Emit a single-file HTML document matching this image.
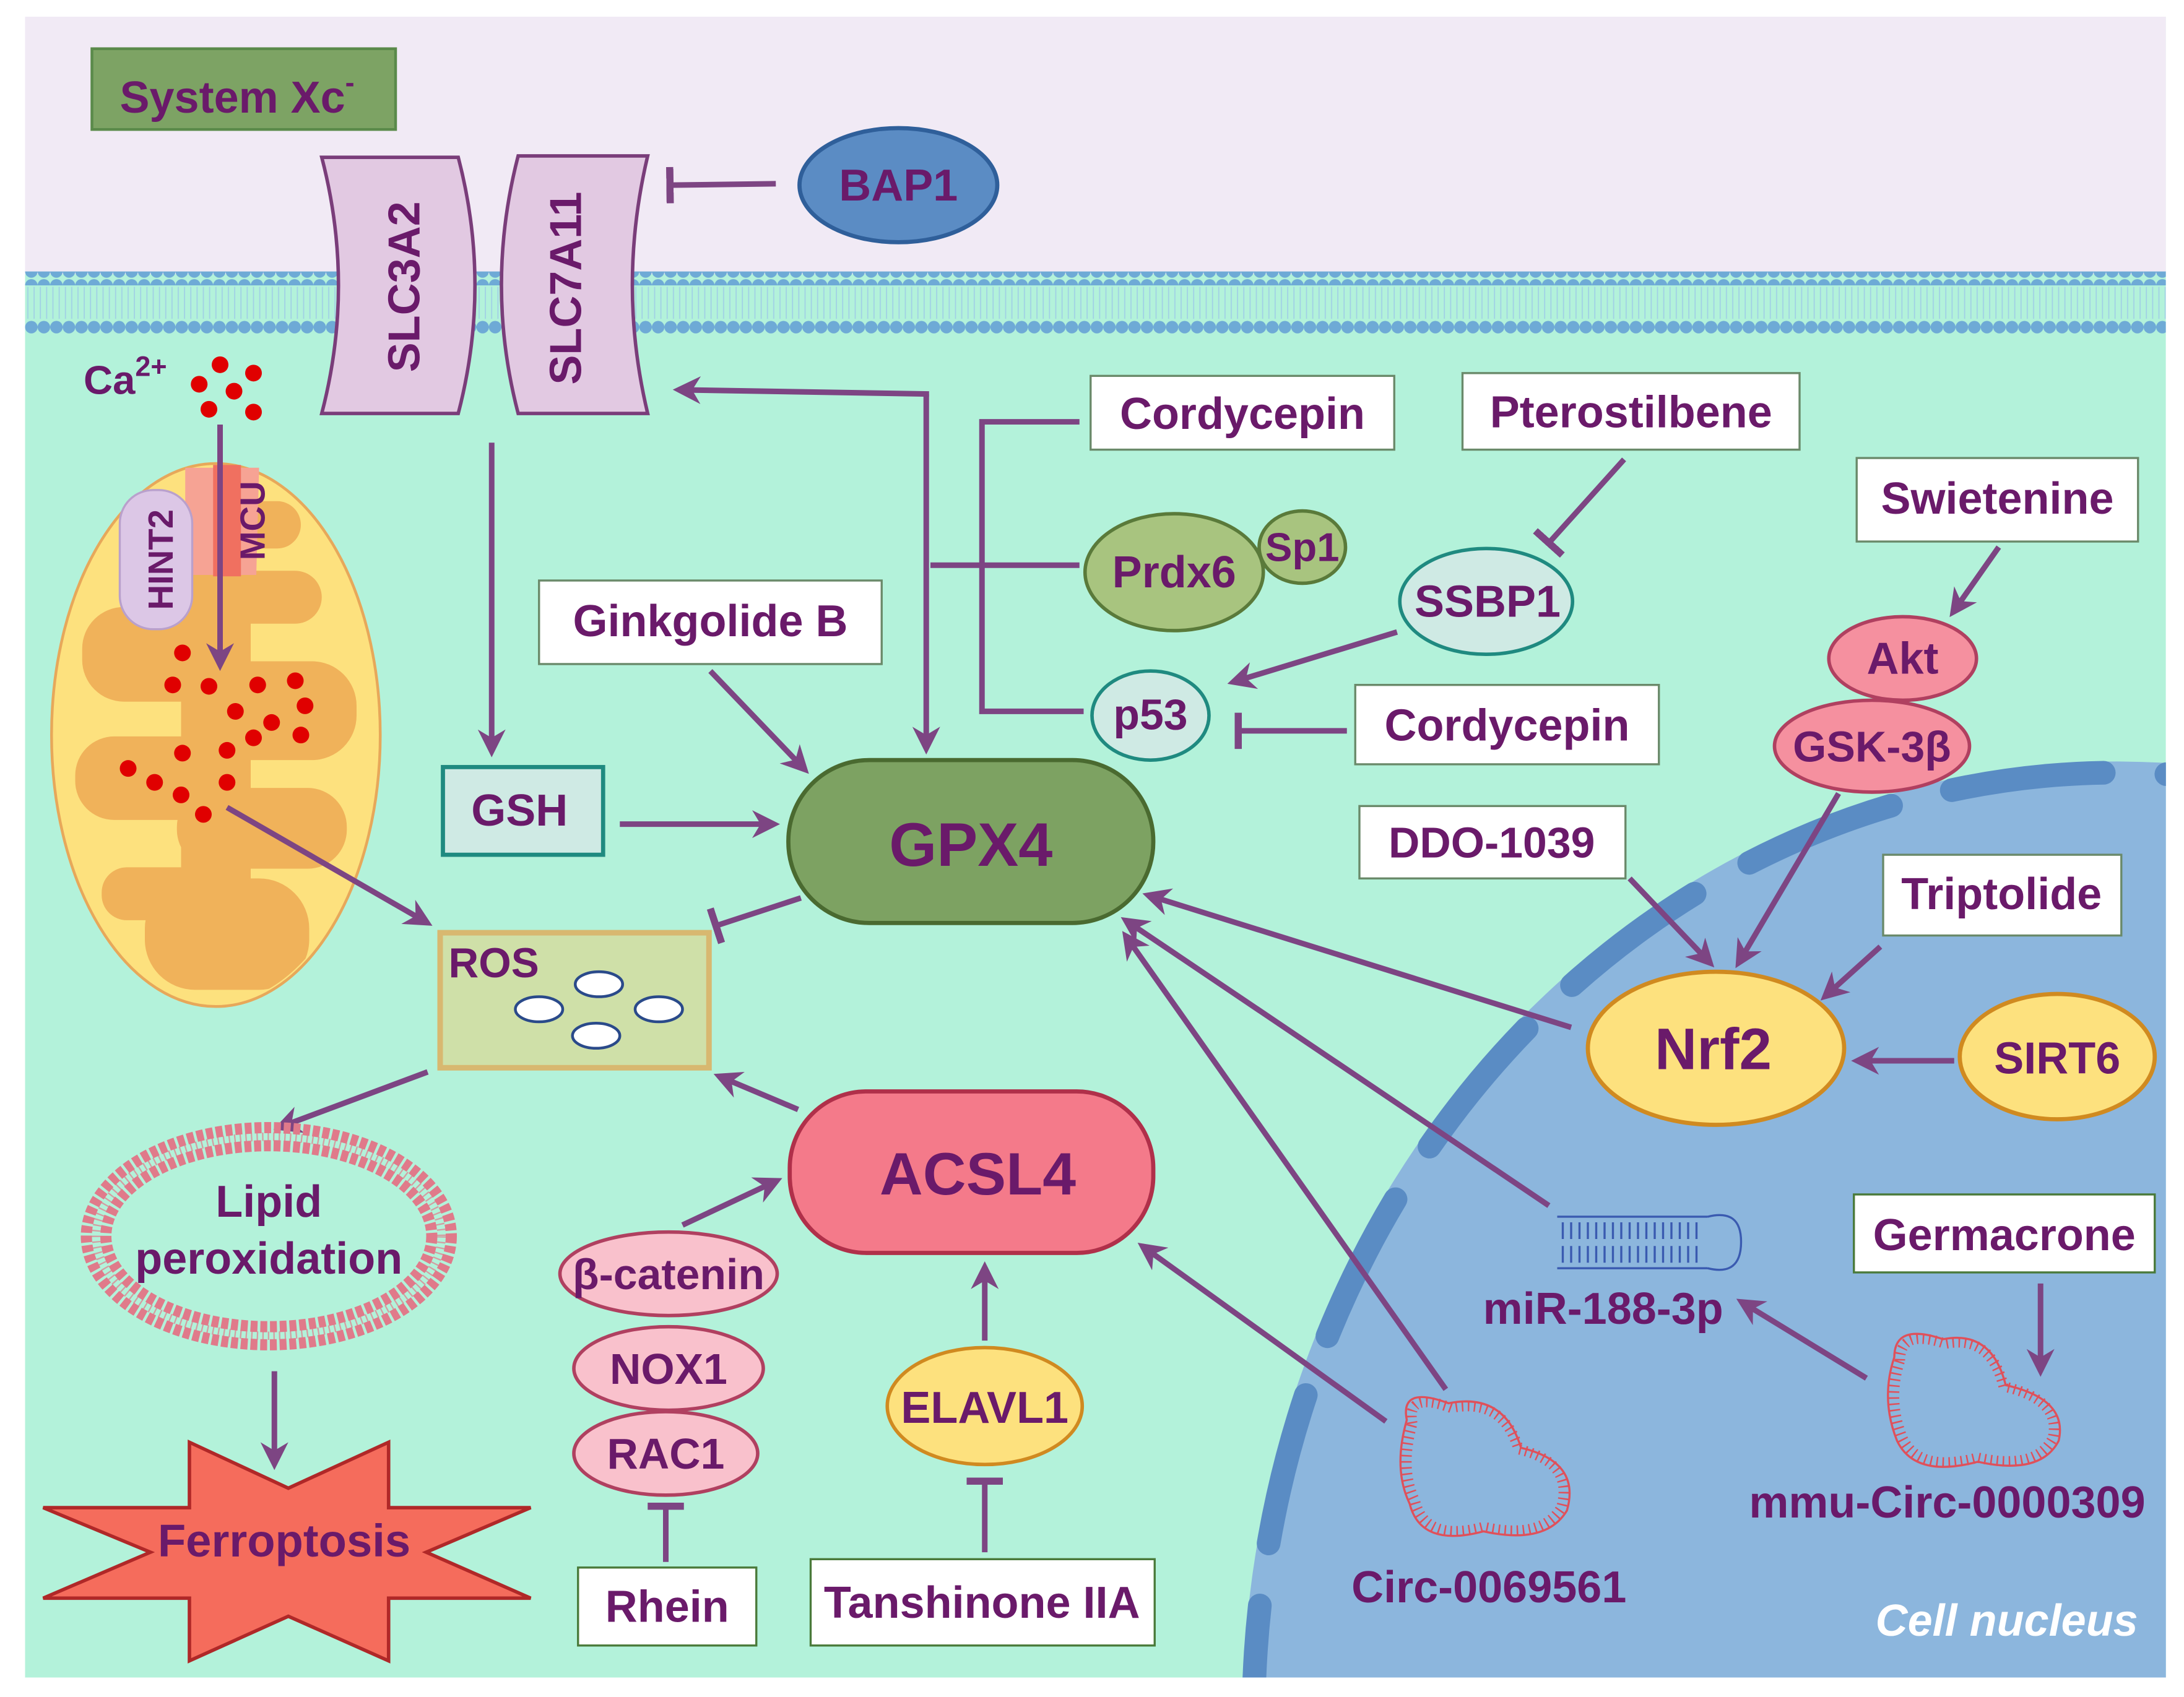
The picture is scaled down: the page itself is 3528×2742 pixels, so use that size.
<!DOCTYPE html>
<html><head><meta charset="utf-8"><style>
html,body{margin:0;padding:0;background:#fff;width:3528px;height:2742px;overflow:hidden;}
svg{display:block;}
text{font-family:"Liberation Sans",Arial,sans-serif;font-weight:bold;fill:#6a1a6a;}
</style></head><body>
<svg width="3528" height="2742" viewBox="0 0 1568 1219" preserveAspectRatio="none" xmlns="http://www.w3.org/2000/svg">
<defs>
<marker id="ar" viewBox="0 0 10 10" refX="8" refY="5" markerWidth="5" markerHeight="5" orient="auto-start-reverse" markerUnits="strokeWidth"><path d="M0,0 L10,5 L0,10 L3,5 Z" fill="#7d4583"/></marker>
<marker id="tb" viewBox="0 0 4 20" refX="2" refY="10" markerWidth="1.3" markerHeight="7" orient="auto" markerUnits="strokeWidth"><rect x="0" y="0" width="4" height="20" fill="#7d4583"/></marker>
<pattern id="dots" x="18" y="0" width="9" height="10" patternUnits="userSpaceOnUse"><circle cx="4.5" cy="5" r="4.5" fill="#6eaad6"/></pattern>
<pattern id="tails" x="18" y="0" width="4.5" height="8" patternUnits="userSpaceOnUse"><line x1="2" y1="0" x2="2" y2="8" stroke="#9cc8e8" stroke-width="0.8"/></pattern>
<clipPath id="panel"><rect x="18" y="12" width="1537" height="1193"/></clipPath>
<clipPath id="mitoclip"><ellipse cx="155" cy="528" rx="116" ry="193"/></clipPath>
</defs>
<rect width="1568" height="1219" fill="#fff"/>
<g clip-path="url(#panel)">
<rect x="18" y="12" width="1537" height="1193" fill="#b3f2da"/>
<rect x="18" y="12" width="1537" height="185" fill="#f1eaf5"/>
<rect x="18" y="195" width="1537" height="10" fill="url(#dots)"/>
<rect x="18" y="206" width="1537" height="23" fill="url(#tails)" opacity="0.8"/>
<rect x="18" y="230" width="1537" height="10" fill="url(#dots)"/>
<ellipse cx="1520" cy="1235" rx="628" ry="688" fill="#8cb6dd"/>
<ellipse cx="1520" cy="1235" rx="620" ry="680" fill="none" stroke="#5a8cc4" stroke-width="17" stroke-linecap="round" stroke-dasharray="110 45"/>
</g>

<rect x="66" y="35" width="218" height="58" fill="#7da364" stroke="#5a8a4a" stroke-width="2"/>
<text x="86" y="81" font-size="32">System Xc<tspan font-size="20" dy="-15">-</tspan></text>

<path d="M231,113 L329,113 Q353,205 329,297 L231,297 Q255,205 231,113 Z" fill="#e2c9e2" stroke="#7a3d7a" stroke-width="2.5"/>
<path d="M372,112 L465,112 Q443,205 465,297 L372,297 Q348,205 372,112 Z" fill="#e2c9e2" stroke="#7a3d7a" stroke-width="2.5"/>
<text transform="translate(301,206) rotate(-90)" font-size="32" text-anchor="middle">SLC3A2</text>
<text transform="translate(417,207) rotate(-90)" font-size="32" text-anchor="middle">SLC7A11</text>

<ellipse cx="645" cy="133" rx="71" ry="41" fill="#5b8cc4" stroke="#2f5f9a" stroke-width="3"/>
<text x="645" y="144" font-size="32" text-anchor="middle">BAP1</text>
<line x1="557" y1="132" x2="481" y2="133" stroke="#7d4583" stroke-width="4" marker-end="url(#tb)"/>

<text x="60" y="283" font-size="29">Ca<tspan font-size="20" dy="-13">2+</tspan></text>
<g fill="#e00000"><circle cx="158" cy="262" r="6"/><circle cx="182" cy="268" r="6"/><circle cx="143" cy="276" r="6"/><circle cx="168" cy="281" r="6"/><circle cx="150" cy="294" r="6"/><circle cx="182" cy="296" r="6"/></g>

<ellipse cx="155" cy="528" rx="118" ry="195" fill="#fde17e" stroke="#e7a85a" stroke-width="2"/>
<g fill="#f0b25a" clip-path="url(#mitoclip)">
<rect x="172" y="360" width="44" height="34" rx="17"/>
<rect x="136" y="410" width="95" height="38" rx="19"/>
<rect x="59" y="436" width="100" height="68" rx="30"/>
<rect x="140" y="475" width="116" height="71" rx="32"/>
<rect x="54" y="529" width="121" height="60" rx="28"/>
<rect x="127" y="566" width="122" height="58" rx="28"/>
<rect x="73" y="623" width="86" height="38" rx="18"/>
<rect x="104" y="631" width="118" height="80" rx="36"/>
<rect x="130" y="400" width="50" height="300"/>
</g>
<path d="M133,336 L186,336 L184,413 L133,413 Z" fill="#f6a394"/>
<rect x="153" y="334" width="20" height="80" fill="#f07060"/>
<rect x="86" y="352" width="52" height="100" rx="24" fill="#dcc7e6" stroke="#b9a0cc" stroke-width="1.5"/>
<text transform="translate(124,402) rotate(-90)" font-size="25" text-anchor="middle">HINT2</text>
<text transform="translate(190,374) rotate(-90)" font-size="25" text-anchor="middle">MCU</text>
<line x1="158" y1="305" x2="158" y2="478" stroke="#7d4583" stroke-width="4" marker-end="url(#ar)"/>
<g fill="#e00000"><circle cx="131" cy="469" r="6"/><circle cx="124" cy="492" r="6"/><circle cx="150" cy="493" r="6"/><circle cx="185" cy="492" r="6"/><circle cx="212" cy="489" r="6"/><circle cx="169" cy="511" r="6"/><circle cx="219" cy="507" r="6"/><circle cx="195" cy="519" r="6"/><circle cx="182" cy="530" r="6"/><circle cx="216" cy="528" r="6"/><circle cx="131" cy="541" r="6"/><circle cx="163" cy="539" r="6"/><circle cx="92" cy="552" r="6"/><circle cx="111" cy="562" r="6"/><circle cx="130" cy="571" r="6"/><circle cx="163" cy="562" r="6"/><circle cx="146" cy="585" r="6"/></g>
<line x1="163" y1="580" x2="307" y2="663" stroke="#7d4583" stroke-width="4" marker-end="url(#ar)"/>

<line x1="353" y1="318" x2="353" y2="540" stroke="#7d4583" stroke-width="4" marker-end="url(#ar)"/>
<rect x="318" y="551" width="115" height="63" fill="#cfeae4" stroke="#1f8a80" stroke-width="3"/>
<text x="373" y="593" font-size="32" text-anchor="middle">GSH</text>
<line x1="445" y1="592" x2="556" y2="592" stroke="#7d4583" stroke-width="4" marker-end="url(#ar)"/>

<rect x="566" y="546" width="262" height="117" rx="58" fill="#7da262" stroke="#4a6a30" stroke-width="3"/>
<text x="697" y="622" font-size="44" text-anchor="middle">GPX4</text>

<rect x="387" y="417" width="246" height="60" fill="#fff" stroke="#6a8a6a" stroke-width="1.5"/>
<text x="510" y="457" font-size="32" text-anchor="middle">Ginkgolide B</text>
<line x1="510" y1="482" x2="578" y2="553" stroke="#7d4583" stroke-width="4" marker-end="url(#ar)"/>

<polyline points="665,283 665,538" fill="none" stroke="#7d4583" stroke-width="4" marker-end="url(#ar)"/>
<polyline points="667,283 487,280" fill="none" stroke="#7d4583" stroke-width="4" marker-end="url(#ar)"/>
<g stroke="#7d4583" stroke-width="4" fill="none">
<polyline points="775,303 705,303 705,511 778,511"/>
<line x1="668" y1="406" x2="775" y2="406"/>
</g>
<rect x="783" y="270" width="218" height="53" fill="#fff" stroke="#6a8a6a" stroke-width="1.5"/>
<text x="892" y="308" font-size="32" text-anchor="middle">Cordycepin</text>
<ellipse cx="843" cy="411" rx="64" ry="42" fill="#a8c47f" stroke="#5a7a3a" stroke-width="2.5"/>
<text x="843" y="422" font-size="32" text-anchor="middle">Prdx6</text>
<ellipse cx="935" cy="393" rx="31" ry="26" fill="#a8c47f" stroke="#5a7a3a" stroke-width="2.5"/>
<text x="935" y="403" font-size="29" text-anchor="middle">Sp1</text>

<rect x="1050" y="268" width="242" height="55" fill="#fff" stroke="#6a8a6a" stroke-width="1.5"/>
<text x="1171" y="307" font-size="32" text-anchor="middle">Pterostilbene</text>
<line x1="1166" y1="330" x2="1112" y2="390" stroke="#7d4583" stroke-width="4" marker-end="url(#tb)"/>
<ellipse cx="1067" cy="432" rx="62" ry="38" fill="#cfeae4" stroke="#1f8a80" stroke-width="2.5"/>
<text x="1068" y="443" font-size="32" text-anchor="middle">SSBP1</text>
<line x1="1003" y1="454" x2="885" y2="490" stroke="#7d4583" stroke-width="4" marker-end="url(#ar)"/>
<ellipse cx="826" cy="514" rx="42" ry="32" fill="#cfeae4" stroke="#1f8a80" stroke-width="2.5"/>
<text x="826" y="524" font-size="31" text-anchor="middle">p53</text>
<rect x="973" y="492" width="218" height="57" fill="#fff" stroke="#6a8a6a" stroke-width="1.5"/>
<text x="1082" y="532" font-size="32" text-anchor="middle">Cordycepin</text>
<line x1="967" y1="525" x2="889" y2="525" stroke="#7d4583" stroke-width="4" marker-end="url(#tb)"/>

<rect x="1333" y="329" width="202" height="60" fill="#fff" stroke="#6a8a6a" stroke-width="1.5"/>
<text x="1434" y="369" font-size="32" text-anchor="middle">Swietenine</text>
<line x1="1435" y1="393" x2="1402" y2="440" stroke="#7d4583" stroke-width="4" marker-end="url(#ar)"/>
<ellipse cx="1366" cy="473" rx="53" ry="30" fill="#f5909f" stroke="#b04060" stroke-width="2.5"/>
<text x="1366" y="484" font-size="32" text-anchor="middle">Akt</text>
<ellipse cx="1344" cy="536" rx="70" ry="33" fill="#f5909f" stroke="#b04060" stroke-width="2.5"/>
<text x="1344" y="547" font-size="31" text-anchor="middle">GSK-3β</text>
<rect x="976" y="579" width="191" height="52" fill="#fff" stroke="#6a8a6a" stroke-width="1.5"/>
<text x="1071" y="616" font-size="31" text-anchor="middle">DDO-1039</text>
<line x1="1170" y1="631" x2="1228" y2="692" stroke="#7d4583" stroke-width="4" marker-end="url(#ar)"/>
<line x1="1320" y1="570" x2="1248" y2="692" stroke="#7d4583" stroke-width="4" marker-end="url(#ar)"/>
<rect x="1352" y="614" width="171" height="58" fill="#fff" stroke="#6a8a6a" stroke-width="1.5"/>
<text x="1437" y="653" font-size="32" text-anchor="middle">Triptolide</text>
<line x1="1350" y1="680" x2="1310" y2="716" stroke="#7d4583" stroke-width="4" marker-end="url(#ar)"/>
<ellipse cx="1232" cy="753" rx="92" ry="55" fill="#fde17e" stroke="#d08a20" stroke-width="3"/>
<text x="1230" y="768" font-size="42" text-anchor="middle">Nrf2</text>
<ellipse cx="1477" cy="759" rx="70" ry="45" fill="#fde17e" stroke="#d08a20" stroke-width="3"/>
<text x="1477" y="771" font-size="32" text-anchor="middle">SIRT6</text>
<line x1="1403" y1="762" x2="1333" y2="762" stroke="#7d4583" stroke-width="4" marker-end="url(#ar)"/>

<line x1="1128" y1="738" x2="824" y2="643" stroke="#7d4583" stroke-width="4" marker-end="url(#ar)"/>
<line x1="1112" y1="866" x2="808" y2="661" stroke="#7d4583" stroke-width="4" marker-end="url(#ar)"/>
<line x1="1038" y1="998" x2="808" y2="672" stroke="#7d4583" stroke-width="4" marker-end="url(#ar)"/>
<line x1="995" y1="1021" x2="820" y2="895" stroke="#7d4583" stroke-width="4" marker-end="url(#ar)"/>

<g stroke="#3a5ab0" stroke-width="1.5" fill="none">
<line x1="1118" y1="874" x2="1226" y2="874"/><line x1="1118" y1="911" x2="1226" y2="911"/>
<path d="M1226,874 Q1250,868 1250,892 Q1250,917 1226,911"/>
<path d="M1122,878 v12 M1128,878 v12 M1134,878 v12 M1140,878 v12 M1146,878 v12 M1152,878 v12 M1158,878 v12 M1164,878 v12 M1170,878 v12 M1176,878 v12 M1182,878 v12 M1188,878 v12 M1194,878 v12 M1200,878 v12 M1206,878 v12 M1212,878 v12 M1218,878 v12"/>
<path d="M1122,895 v12 M1128,895 v12 M1134,895 v12 M1140,895 v12 M1146,895 v12 M1152,895 v12 M1158,895 v12 M1164,895 v12 M1170,895 v12 M1176,895 v12 M1182,895 v12 M1188,895 v12 M1194,895 v12 M1200,895 v12 M1206,895 v12 M1212,895 v12 M1218,895 v12"/>
</g>
<text x="1151" y="951" font-size="32" text-anchor="middle">miR-188-3p</text>

<rect x="1331" y="858" width="216" height="56" fill="#fff" stroke="#4a7a3a" stroke-width="1.5"/>
<text x="1439" y="898" font-size="32" text-anchor="middle">Germacrone</text>
<line x1="1465" y1="922" x2="1465" y2="985" stroke="#7d4583" stroke-width="4" marker-end="url(#ar)"/>
<line x1="1340" y1="990" x2="1250" y2="935" stroke="#7d4583" stroke-width="4" marker-end="url(#ar)"/>

<g fill="none" stroke="#e0505a">
<path d="M1010,1020 Q1005,995 1040,1008 Q1080,1000 1092,1040 Q1135,1050 1125,1085 Q1110,1110 1065,1100 Q1020,1112 1012,1080 Q1000,1055 1010,1020 Z" stroke-width="1.5"/>
<path d="M1010,1020 Q1005,995 1040,1008 Q1080,1000 1092,1040 Q1135,1050 1125,1085 Q1110,1110 1065,1100 Q1020,1112 1012,1080 Q1000,1055 1010,1020 Z" stroke-width="8" stroke-dasharray="1.2 3.5" transform="translate(1067,1055) scale(0.93) translate(-1067,-1055)"/>
<path d="M1360,975 Q1360,950 1395,962 Q1430,955 1440,995 Q1485,1005 1478,1035 Q1465,1060 1420,1050 Q1375,1062 1362,1035 Q1350,1005 1360,975 Z" stroke-width="1.5"/>
<path d="M1360,975 Q1360,950 1395,962 Q1430,955 1440,995 Q1485,1005 1478,1035 Q1465,1060 1420,1050 Q1375,1062 1362,1035 Q1350,1005 1360,975 Z" stroke-width="8" stroke-dasharray="1.2 3.5" transform="translate(1418,1008) scale(0.93) translate(-1418,-1008)"/>
</g>
<text x="1069" y="1151" font-size="32" text-anchor="middle">Circ-0069561</text>
<text x="1398" y="1090" font-size="32" text-anchor="middle">mmu-Circ-0000309</text>
<text x="1535" y="1175" font-size="32" text-anchor="end" font-style="italic" style="fill:#fff">Cell nucleus</text>

<rect x="316" y="670" width="193" height="97" fill="#cfe0a8" stroke="#d8b870" stroke-width="4"/>
<text x="322" y="702" font-size="30">ROS</text>
<g fill="#fff" stroke="#2a4a8a" stroke-width="2">
<ellipse cx="430" cy="707" rx="17" ry="9"/><ellipse cx="387" cy="725" rx="17" ry="9"/><ellipse cx="473" cy="725" rx="17" ry="9"/><ellipse cx="428" cy="744" rx="17" ry="9"/>
</g>
<line x1="575" y1="645" x2="514" y2="665" stroke="#7d4583" stroke-width="4" marker-end="url(#tb)"/>
<line x1="573" y1="797" x2="516" y2="773" stroke="#7d4583" stroke-width="4" marker-end="url(#ar)"/>
<line x1="307" y1="770" x2="200" y2="810" stroke="#7d4583" stroke-width="4" marker-end="url(#ar)"/>

<ellipse cx="193" cy="888" rx="131" ry="78" fill="none" stroke="#e07a8a" stroke-width="8" stroke-dasharray="5 2"/>
<ellipse cx="193" cy="888" rx="117" ry="65" fill="none" stroke="#e07a8a" stroke-width="8" stroke-dasharray="5 2"/>
<ellipse cx="193" cy="888" rx="124" ry="71.5" fill="none" stroke="#e07a8a" stroke-width="6" stroke-dasharray="1 3" opacity="0.7"/>
<text x="193" y="874" font-size="32" text-anchor="middle">Lipid</text>
<text x="193" y="915" font-size="32" text-anchor="middle">peroxidation</text>
<line x1="197" y1="985" x2="197" y2="1052" stroke="#7d4583" stroke-width="4" marker-end="url(#ar)"/>
<polygon points="136,1036 207,1069 279,1036 279,1083 381,1083 306,1115 381,1148 279,1148 279,1193 207,1161 136,1193 136,1148 31,1148 108,1115 31,1083 136,1083" fill="#f56c5c" stroke="#b02828" stroke-width="2.5"/>
<text x="204" y="1118" font-size="33" text-anchor="middle">Ferroptosis</text>

<rect x="567" y="784" width="261" height="116" rx="55" fill="#f47a8a" stroke="#b0304a" stroke-width="3"/>
<text x="702" y="858" font-size="43" text-anchor="middle">ACSL4</text>
<ellipse cx="480" cy="915" rx="78" ry="30" fill="#f9c1cc" stroke="#b04060" stroke-width="2.5"/>
<text x="480" y="926" font-size="31" text-anchor="middle">β-catenin</text>
<ellipse cx="480" cy="983" rx="68" ry="30" fill="#f9c1cc" stroke="#b04060" stroke-width="2.5"/>
<text x="480" y="994" font-size="31" text-anchor="middle">NOX1</text>
<ellipse cx="478" cy="1044" rx="66" ry="30" fill="#f9c1cc" stroke="#b04060" stroke-width="2.5"/>
<text x="478" y="1055" font-size="31" text-anchor="middle">RAC1</text>
<line x1="490" y1="880" x2="558" y2="848" stroke="#7d4583" stroke-width="4" marker-end="url(#ar)"/>
<line x1="478" y1="1122" x2="478" y2="1082" stroke="#7d4583" stroke-width="4" marker-end="url(#tb)"/>
<rect x="415" y="1126" width="128" height="56" fill="#fff" stroke="#4a7a3a" stroke-width="1.5"/>
<text x="479" y="1165" font-size="32" text-anchor="middle">Rhein</text>
<ellipse cx="707" cy="1010" rx="70" ry="42" fill="#fde17e" stroke="#d08a20" stroke-width="2.5"/>
<text x="707" y="1022" font-size="32" text-anchor="middle">ELAVL1</text>
<line x1="707" y1="963" x2="707" y2="910" stroke="#7d4583" stroke-width="4" marker-end="url(#ar)"/>
<line x1="707" y1="1115" x2="707" y2="1064" stroke="#7d4583" stroke-width="4" marker-end="url(#tb)"/>
<rect x="582" y="1120" width="247" height="62" fill="#fff" stroke="#4a7a3a" stroke-width="1.5"/>
<text x="705" y="1162" font-size="32" text-anchor="middle">Tanshinone IIA</text>
</svg>
</body></html>
